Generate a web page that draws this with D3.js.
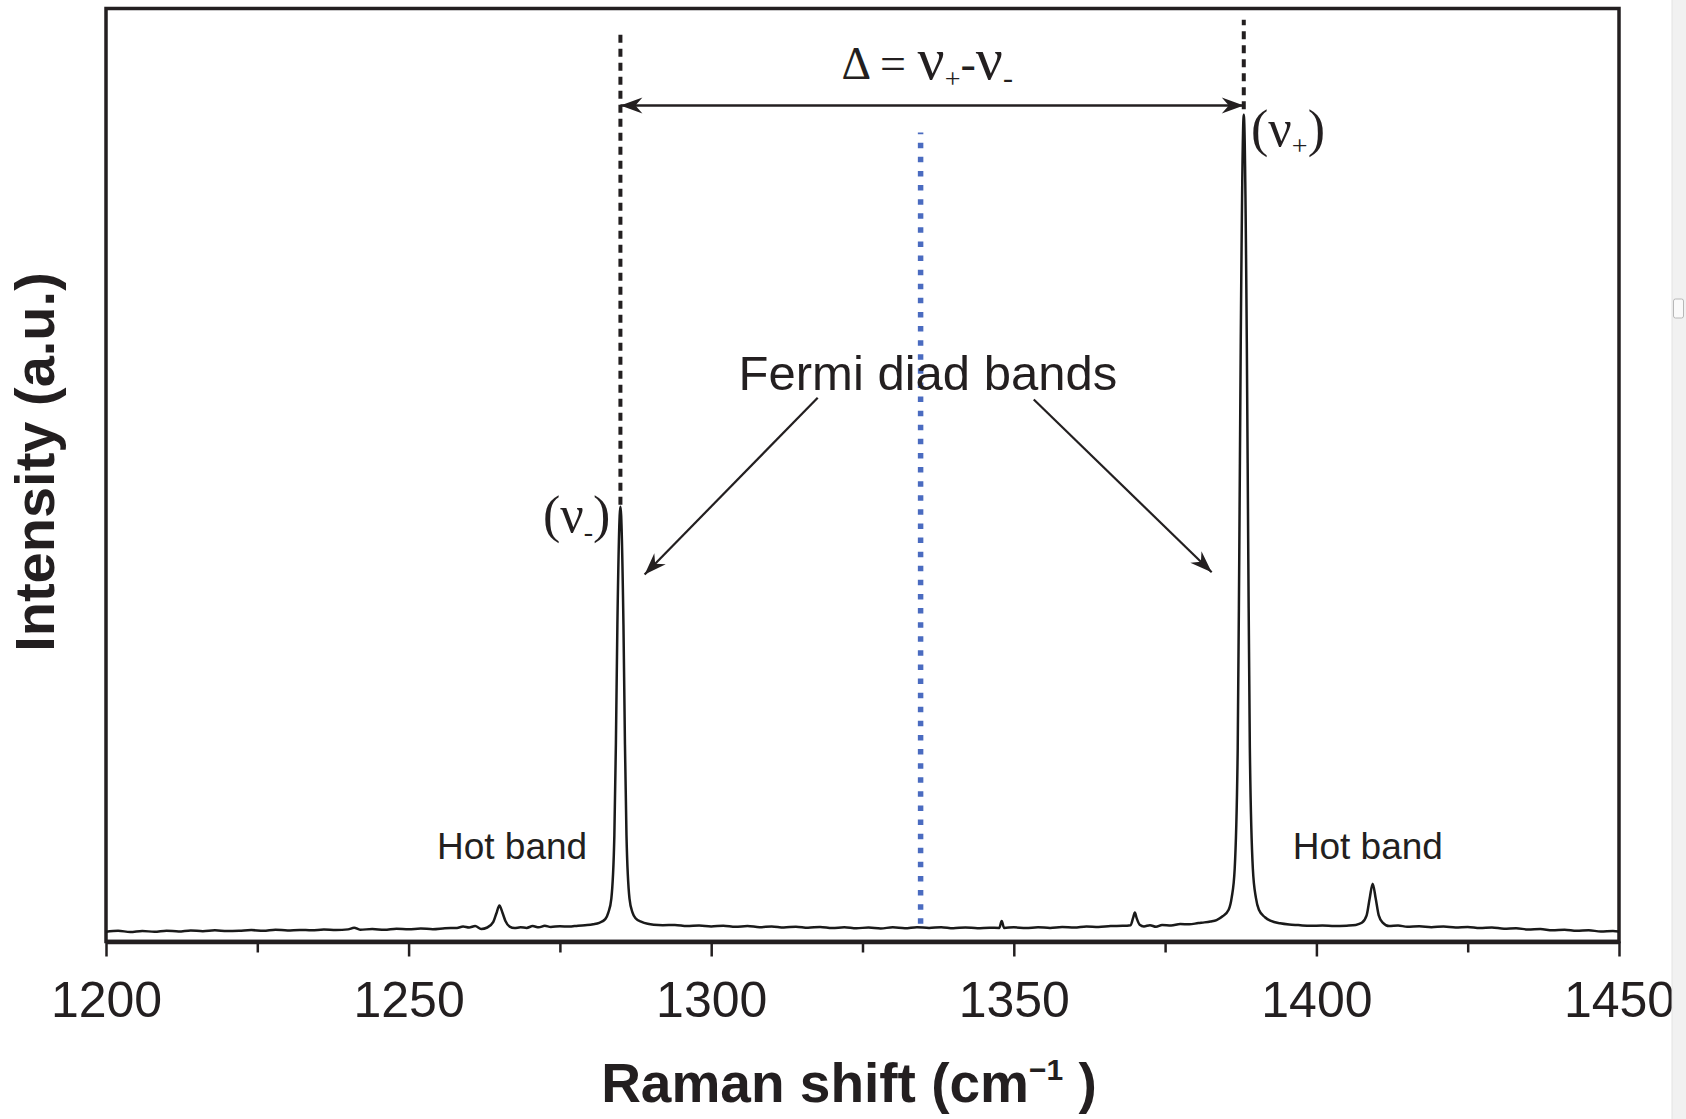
<!DOCTYPE html>
<html><head><meta charset="utf-8">
<script src="https://cdn.jsdelivr.net/npm/d3@7"></script>
<style>html,body{margin:0;padding:0;background:#fff;overflow:hidden}</style>
</head><body>
<svg id="chart" width="1686" height="1119"></svg>
<script>
// ---- data ----
const ramanShift = [
 1200,1202,1204,1206,1208,1210,1212,1214,1216,1218,1220,1222,1224,1226,1228,1230,1232,1234,1236,1238,1240,1241,1242,1244,1246,1248,1250,1252,1254,1256,1258,1259,1260,1261,1262,
 1263,1264,1264.5,1265,1265.5,1266,1266.7,1267.5,1268.5,1269.5,1270.5,1271.5,1272.5,1273.5,1275,1276.5,1278,1279.5,1280.5,1281.5,1282.5,1283,1283.5,1284,1284.25,1284.5,1285,1285.5,1285.75,1286,1286.5,1287,1287.5,1288.5,1289.5,1290.5,
 1292,1294,1296,1298,1300,1302,1304,1306,1308,1310,1312,1314,1316,1318,1320,1322,1324,1326,1328,1330,1332,1334,1336,1338,1340,1342,1344,1346,1347.6,1348,1348.4,
 1350,1352,1354,1356,1358,1360,1362,1364,1366,1368,1369.3,1369.7,1370,1370.3,1370.8,1371.5,1372.5,1373.5,1374.5,1376,1377.5,1379,1380.5,1381.5,1382.5,1383.5,1384.5,1385.5,1386,1386.5,1387,1387.25,1387.5,1388,1388.5,1388.75,1389,1389.5,1390,1390.5,1391.5,1392.5,
 1394,1395.5,1397,1399,1401,1403,1405,1406.5,1407.5,1408.3,1408.8,1409.3,1409.8,1410.3,1411,1412,1413.5,1415,1417,1419,1421,1423,1425,1427,1429,1431,1433,1435,1437,1439,1441,1443,1445,1447,1449,1450
];
const intensity = [
 10.5,11.5,10.2,11.3,10.4,11.6,10.8,11.9,11.0,12.0,11.2,11.5,12.2,11.4,12.6,11.8,12.4,12.0,12.9,12.3,13.0,14.8,12.6,13.4,12.5,13.6,13.0,14.0,13.2,14.2,14.6,16.0,15.0,16.5,13.5,
 15,21,30,38.5,31,22,16,14.5,15.2,14.6,16.5,15.2,16.8,15.6,16.4,16.0,17.0,17.6,18.5,20,24,31,46,114,211,340,466,340,211,114,46,31,25,21,19,18,
 17.5,17.8,16.6,17.2,16.2,16.9,15.8,16.6,15.4,16.2,15.0,15.9,14.8,15.6,14.4,15.3,14.2,15.0,14.0,15.2,14.3,15.4,14.6,15.3,14.2,15.1,14.3,14.8,14.5,22,14.6,
 15.2,14.4,15.3,14.6,15.6,15.0,16.2,15.6,16.6,16.8,17.5,25,31,25,18,16.2,17.5,15.8,17.8,17.2,18.8,18.4,19.8,20.5,21.5,23,27,34,47,78,208,409,643,886,643,409,208,78,47,34,26,22,
 19.5,18.2,17.6,16.8,17.2,16.5,17.0,17.8,20,28,46,62,46,28,20,16.5,17.2,15.8,16.4,15.4,16.0,15.0,15.6,14.4,15.0,13.8,14.3,12.8,13.4,12.0,12.6,11.4,12.0,10.8,11.2,10.6
];
const xTickValues = [1200, 1250, 1300, 1350, 1400, 1450];
const xMinorTickValues = [1225, 1275, 1325, 1375, 1425];
const xDomain = [1200, 1450];
const yDomain = [0, 1000];

// annotation anchors, in data units (cm-1, a.u.)
const peakGuideX = [1285, 1388];
const peakGuideBottom = [468, 892];
const peakGuideTop = [972, 988];
const centerLineX = 1334.6;
const centerLineRange = [19, 867];
const deltaArrowY = 896;
const fermiArrowsFrom = [[1317.6, 582.7], [1353.3, 580.9]];
const fermiArrowsTo = [[1289.0, 393.4], [1382.7, 395.8]];
const hotBandLabelX = [1267.1, 1408.5];
const hotBandLabelY = 87.9;

// ---- drawing ----
const W = 1686, H = 1119;
const mLeft = 106, mRight = 1619, mTop = 8.5, mBottom = 941.5;
const ink = "#231f20";
const svg = d3.select("#chart");
svg.append("rect").attr("width", W).attr("height", H).attr("fill", "#fff");

const x = d3.scaleLinear().domain(xDomain).range([mLeft, mRight]);
const y = d3.scaleLinear().domain(yDomain).range([mBottom, mTop]);

const defs = svg.append("defs");
defs.append("marker").attr("id", "head")
  .attr("markerUnits", "userSpaceOnUse")
  .attr("viewBox", "-24 -10 26 20").attr("refX", 0).attr("refY", 0)
  .attr("markerWidth", 26).attr("markerHeight", 20)
  .attr("orient", "auto-start-reverse")
  .append("path").attr("d", "M0,0 L-22,-8 L-15,0 L-22,8 Z").attr("fill", ink);

// frame
svg.append("rect").attr("x", mLeft).attr("y", mTop).attr("width", mRight - mLeft).attr("height", mBottom - mTop)
  .attr("fill", "none").attr("stroke", ink).attr("stroke-width", 3.5);

// axes
const xAxis = d3.axisBottom(x).tickValues(xTickValues).tickSize(15).tickSizeOuter(0).tickFormat(d3.format("d"));
const gx = svg.append("g").attr("transform", `translate(0,${mBottom})`).call(xAxis);
gx.select(".domain").attr("stroke", ink).attr("stroke-width", 4.5);
gx.selectAll(".tick line").attr("stroke", ink).attr("stroke-width", 2.5);
gx.selectAll(".tick text").attr("y", 40).attr("dy", "0.71em")
  .attr("font-family", "'Liberation Sans', Arial, sans-serif").attr("font-size", 50).attr("fill", ink);
const xMinor = d3.axisBottom(x).tickValues(xMinorTickValues).tickSize(11).tickSizeOuter(0).tickFormat("");
const gm = svg.append("g").attr("transform", `translate(0,${mBottom})`).call(xMinor);
gm.select(".domain").remove();
gm.selectAll(".tick line").attr("stroke", ink).attr("stroke-width", 2.5);

// guide lines at the peaks (black dotted)
svg.append("g").selectAll("line").data(peakGuideX).join("line")
  .attr("x1", d => x(d)).attr("x2", d => x(d))
  .attr("y1", (d, i) => y(peakGuideBottom[i])).attr("y2", (d, i) => y(peakGuideTop[i]))
  .attr("stroke", ink).attr("stroke-width", 4).attr("stroke-dasharray", "8,6");

// blue dotted centre line
svg.append("line")
  .attr("x1", x(centerLineX)).attr("x2", x(centerLineX))
  .attr("y1", y(centerLineRange[0])).attr("y2", y(centerLineRange[1]))
  .attr("stroke", "#4a6bc0").attr("stroke-width", 5.5).attr("stroke-dasharray", "5.5,8.6");

// spectrum
const pts = ramanShift.map((r, i) => [r, intensity[i]]);
svg.append("path").datum(pts)
  .attr("d", d3.line().x(d => x(d[0])).y(d => y(d[1])).curve(d3.curveMonotoneX))
  .attr("fill", "none").attr("stroke", "#1a1a1a").attr("stroke-width", 2.5).attr("stroke-linejoin", "round");

// delta double arrow
svg.append("line")
  .attr("x1", x(peakGuideX[0])).attr("x2", x(peakGuideX[1]))
  .attr("y1", y(deltaArrowY)).attr("y2", y(deltaArrowY))
  .attr("stroke", ink).attr("stroke-width", 2.4)
  .attr("marker-start", "url(#head)").attr("marker-end", "url(#head)");

// Fermi arrows
svg.append("g").selectAll("line").data(fermiArrowsFrom).join("line")
  .attr("x1", d => x(d[0])).attr("y1", d => y(d[1]))
  .attr("x2", (d, i) => x(fermiArrowsTo[i][0])).attr("y2", (d, i) => y(fermiArrowsTo[i][1]))
  .attr("stroke", ink).attr("stroke-width", 2.2).attr("marker-end", "url(#head)");

const sans = "'Liberation Sans', Arial, sans-serif";
const serif = "'Liberation Serif', 'Times New Roman', serif";

// Δ = ν+-ν-
const dt = svg.append("text").attr("x", x(1335.7)).attr("y", y(924))
  .attr("text-anchor", "middle").attr("font-family", serif).attr("fill", ink);
dt.append("tspan").attr("font-size", 46).text("Δ = ");
dt.append("tspan").attr("font-size", 60).text("ν");
dt.append("tspan").attr("font-size", 28).attr("dy", 9).text("+");
dt.append("tspan").attr("font-size", 46).attr("dy", -9).text("-");
dt.append("tspan").attr("font-size", 60).text("ν");
dt.append("tspan").attr("font-size", 30).attr("dy", 9).text("-");

// (ν-) and (ν+)
function nuLabel(xd, yd, sub) {
  const t = svg.append("text").attr("x", x(xd)).attr("y", y(yd))
    .attr("font-family", serif).attr("font-size", 52).attr("fill", ink);
  t.append("tspan").text("(ν");
  t.append("tspan").attr("font-size", 28).attr("dy", 9).text(sub);
  t.append("tspan").attr("dy", -9).text(")");
}
nuLabel(1272.2, 439.4, "-");
nuLabel(1389.2, 852.1, "+");

// Fermi diad bands
svg.append("text").attr("x", x(1335.8)).attr("y", y(591.6))
  .attr("text-anchor", "middle").attr("font-family", sans).attr("font-size", 49).attr("fill", ink)
  .text("Fermi diad bands");

// Hot band labels
svg.append("g").selectAll("text").data(hotBandLabelX).join("text")
  .attr("x", d => x(d)).attr("y", y(hotBandLabelY))
  .attr("text-anchor", "middle").attr("font-family", sans).attr("font-size", 37).attr("fill", ink)
  .text("Hot band");

// axis titles
const xt = svg.append("text").attr("x", 849).attr("y", 1102).attr("text-anchor", "middle")
  .attr("font-family", sans).attr("font-weight", "bold").attr("font-size", 55).attr("fill", ink);
xt.append("tspan").text("Raman shift (cm");
xt.append("tspan").attr("font-size", 30).attr("dy", -22).text("−1");
xt.append("tspan").attr("dy", 22).text(" )");

svg.append("text").attr("transform", "translate(54,462) rotate(-90)").attr("text-anchor", "middle")
  .attr("font-family", sans).attr("font-weight", "bold").attr("font-size", 56).attr("fill", ink)
  .text("Intensity (a.u.)");

// viewer scrollbar strip at right edge of the screenshot
svg.append("rect").attr("x", 1672).attr("y", 0).attr("width", 14).attr("height", H).attr("fill", "#f1f1f1");
svg.append("line").attr("x1", 1672).attr("x2", 1672).attr("y1", 0).attr("y2", H).attr("stroke", "#e3e3e3");
svg.append("rect").attr("x", 1673.5).attr("y", 299).attr("width", 10).attr("height", 19).attr("rx", 2)
  .attr("fill", "#fafafa").attr("stroke", "#b8b8b8");
</script>
</body></html>
